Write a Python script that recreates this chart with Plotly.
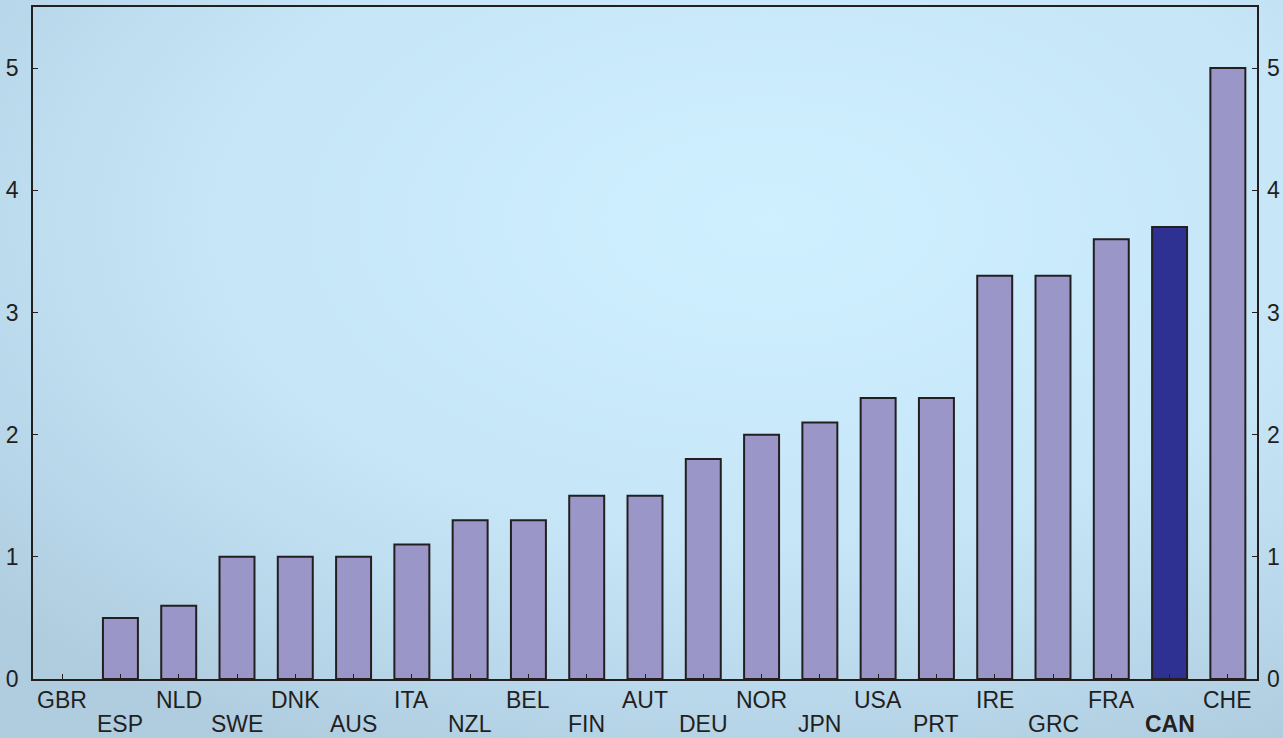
import base64

import plotly.graph_objects as go

countries = ["GBR", "ESP", "NLD", "SWE", "DNK", "AUS", "ITA", "NZL", "BEL", "FIN", "AUT",
             "DEU", "NOR", "JPN", "USA", "PRT", "IRE", "GRC", "FRA", "CAN", "CHE"]
values = [0, 0.5, 0.6, 1.0, 1.0, 1.0, 1.1, 1.3, 1.3, 1.5, 1.5,
          1.8, 2.0, 2.1, 2.3, 2.3, 3.3, 3.3, 3.6, 3.7, 5.0]
highlight = "CAN"
y_ticks = [0, 1, 2, 3, 4, 5]

W, H = 1283, 738
ML, MR, MT, MB = 33, 26, 7, 59
PW, PH = W - ML - MR, H - MT - MB

BAR = "#9b96c8"
BAR_HI = "#2e3192"
INK = "#231f20"
FONT = "Liberation Sans Narrow, Arial Narrow, Liberation Sans, Arial, sans-serif"

colors = [BAR_HI if c == highlight else BAR for c in countries]
outline = [0 if v == 0 else 2 for v in values]

svg = f"""<svg xmlns='http://www.w3.org/2000/svg' width='{W}' height='{H}'>
<defs><radialGradient id='g' cx='0.6' cy='0.3' r='0.8'>
<stop offset='0' stop-color='#cff0ff'/><stop offset='0.55' stop-color='#c6e6f8'/>
<stop offset='1' stop-color='#b0cde0'/></radialGradient></defs>
<rect width='{W}' height='{H}' fill='url(#g)'/></svg>"""
bg_src = "data:image/svg+xml;base64," + base64.b64encode(svg.encode()).decode()

fig = go.Figure()
fig.add_trace(go.Bar(
    x=countries, y=values,
    marker=dict(color=colors, line=dict(color=INK, width=outline)),
    width=0.6,
    hoverinfo="x+y",
    showlegend=False,
))
# carrier for the right-hand axis
fig.add_trace(go.Scatter(
    x=countries, y=values, yaxis="y2", mode="markers",
    marker=dict(opacity=0), hoverinfo="skip", showlegend=False,
))

# staggered country labels (two rows)
labels = []
for i, c in enumerate(countries):
    labels.append(dict(
        x=c, y=0, xref="x", yref="paper",
        text=f"<b>{c}</b>" if c == highlight else c,
        showarrow=False, xanchor="center", yanchor="middle",
        yshift=-21 if i % 2 == 0 else -45,
    ))

fig.update_layout(
    width=W, height=H,
    margin=dict(l=ML, r=MR, t=MT, b=MB, autoexpand=False),
    paper_bgcolor="#c4e3f5",
    plot_bgcolor="rgba(0,0,0,0)",
    font=dict(family=FONT, size=23, color=INK),
    annotations=labels,
    images=[dict(
        source=bg_src, xref="paper", yref="paper",
        x=-ML / PW, y=1 + MT / PH, sizex=W / PW, sizey=H / PH,
        xanchor="left", yanchor="top", sizing="stretch", layer="below",
    )],
    xaxis=dict(
        range=[-0.5, len(countries) - 0.5],
        tickmode="array", tickvals=countries, showticklabels=False,
        ticks="inside", ticklen=5, tickcolor=INK, tickwidth=1,
        showline=True, linecolor=INK, linewidth=1.5, mirror=True,
        showgrid=False, zeroline=False, fixedrange=True,
    ),
    yaxis=dict(
        range=[0, 5.5], tickvals=y_ticks,
        ticks="inside", ticklen=5, tickcolor=INK, tickwidth=1,
        showline=True, linecolor=INK, linewidth=1.5, mirror=True,
        showgrid=False, zeroline=False, fixedrange=True, ticklabelstandoff=8,
    ),
    yaxis2=dict(
        range=[0, 5.5], tickvals=y_ticks, overlaying="y", side="right",
        ticks="inside", ticklen=5, tickcolor=INK, tickwidth=1,
        showline=False, showgrid=False, zeroline=False, fixedrange=True,
        ticklabelstandoff=9,
    ),
)

fig.write_html("out.html", config={"displayModeBar": False},
               post_script="document.body.style.margin='0';")
